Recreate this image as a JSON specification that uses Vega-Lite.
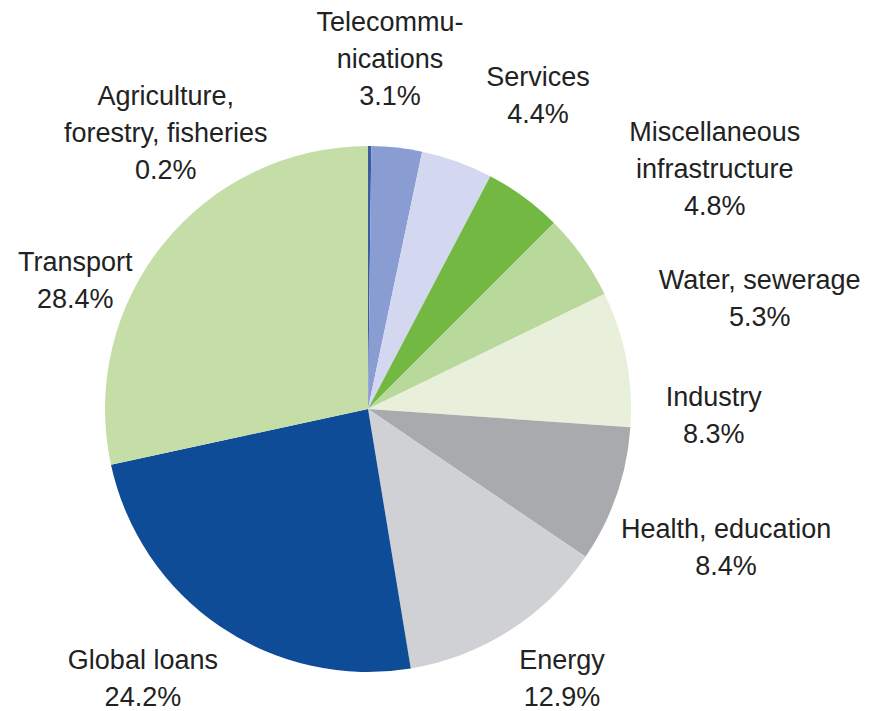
{
  "$schema": "https://vega.github.io/schema/vega-lite/v6.json",
  "width": 736,
  "height": 604,
  "autosize": "none",
  "padding": {"left": 0, "top": 107, "right": 136, "bottom": 0},
  "background": "white",
  "config": {
    "view": {"stroke": null},
    "text": {"font": "Liberation Sans", "fontSize": 27, "lineHeight": 37, "fill": "#222222", "lineBreak": "\n", "align": "center", "baseline": "middle"}
  },
  "data": {
    "values": [
      {"category": "Agriculture, forestry, fisheries", "label": "Agriculture,\nforestry, fisheries\n0.2%", "value": 0.2},
      {"category": "Telecommunications", "label": "Telecommu-\nnications\n3.1%", "value": 3.1},
      {"category": "Services", "label": "Services\n4.4%", "value": 4.4},
      {"category": "Miscellaneous infrastructure", "label": "Miscellaneous\ninfrastructure\n4.8%", "value": 4.8},
      {"category": "Water, sewerage", "label": "Water, sewerage\n5.3%", "value": 5.3},
      {"category": "Industry", "label": "Industry\n8.3%", "value": 8.3},
      {"category": "Health, education", "label": "Health, education\n8.4%", "value": 8.4},
      {"category": "Energy", "label": "Energy\n12.9%", "value": 12.9},
      {"category": "Global loans", "label": "Global loans\n24.2%", "value": 24.2},
      {"category": "Transport", "label": "Transport\n28.4%", "value": 28.4}
    ]
  },
  "transform": [{"stack": "value", "groupby": [], "as": ["v0", "v1"]}],
  "layer": [
    {
      "mark": {"type": "arc", "radius": 263},
      "encoding": {
        "theta": {"field": "v0", "type": "quantitative", "stack": null, "scale": {"domain": [0, 100]}},
        "theta2": {"field": "v1"},
        "color": {
          "field": "category",
          "type": "nominal",
          "legend": null,
          "scale": {
            "domain": ["Agriculture, forestry, fisheries", "Telecommunications", "Services", "Miscellaneous infrastructure", "Water, sewerage", "Industry", "Health, education", "Energy", "Global loans", "Transport"],
            "range": ["#3d5c9e", "#8a9dd3", "#d3d8f0", "#72b843", "#b9d99c", "#e8f0db", "#a8aaad", "#d0d1d4", "#0f4c97", "#c5dea7"]
          }
        }
      }
    },
    {
      "transform": [{"filter": {"field": "category", "equal": "Agriculture, forestry, fisheries"}}],
      "mark": {"type": "text", "radius": 372, "thetaOffset": -0.5746},
      "encoding": {"theta": {"field": "v0", "type": "quantitative", "stack": null}, "text": {"field": "label"}}
    },
    {
      "transform": [{"filter": {"field": "category", "equal": "Telecommunications"}}],
      "mark": {"type": "text", "radius": 387, "thetaOffset": 0.0444},
      "encoding": {"theta": {"field": "v0", "type": "quantitative", "stack": null}, "text": {"field": "label"}}
    },
    {
      "transform": [{"filter": {"field": "category", "equal": "Services"}}],
      "mark": {"type": "text", "radius": 372, "thetaOffset": 0.2671},
      "encoding": {"theta": {"field": "v0", "type": "quantitative", "stack": null}, "text": {"field": "label"}}
    },
    {
      "transform": [{"filter": {"field": "category", "equal": "Miscellaneous infrastructure"}}],
      "mark": {"type": "text", "radius": 443, "thetaOffset": 0.415},
      "encoding": {"theta": {"field": "v0", "type": "quantitative", "stack": null}, "text": {"field": "label"}}
    },
    {
      "transform": [{"filter": {"field": "category", "equal": "Water, sewerage"}}],
      "mark": {"type": "text", "radius": 412, "thetaOffset": 0.4698},
      "encoding": {"theta": {"field": "v0", "type": "quantitative", "stack": null}, "text": {"field": "label"}}
    },
    {
      "transform": [{"filter": {"field": "category", "equal": "Industry"}}],
      "mark": {"type": "text", "radius": 346, "thetaOffset": 0.4206},
      "encoding": {"theta": {"field": "v0", "type": "quantitative", "stack": null}, "text": {"field": "label"}}
    },
    {
      "transform": [{"filter": {"field": "category", "equal": "Health, education"}}],
      "mark": {"type": "text", "radius": 378, "thetaOffset": 0.2569},
      "encoding": {"theta": {"field": "v0", "type": "quantitative", "stack": null}, "text": {"field": "label"}}
    },
    {
      "transform": [{"filter": {"field": "category", "equal": "Energy"}}],
      "mark": {"type": "text", "radius": 318, "thetaOffset": 0.3178},
      "encoding": {"theta": {"field": "v0", "type": "quantitative", "stack": null}, "text": {"field": "label"}}
    },
    {
      "transform": [{"filter": {"field": "category", "equal": "Global loans"}}],
      "mark": {"type": "text", "radius": 338, "thetaOffset": 0.8922},
      "encoding": {"theta": {"field": "v0", "type": "quantitative", "stack": null}, "text": {"field": "label"}}
    },
    {
      "transform": [{"filter": {"field": "category", "equal": "Transport"}}],
      "mark": {"type": "text", "radius": 327, "thetaOffset": 0.676},
      "encoding": {"theta": {"field": "v0", "type": "quantitative", "stack": null}, "text": {"field": "label"}}
    }
  ]
}
